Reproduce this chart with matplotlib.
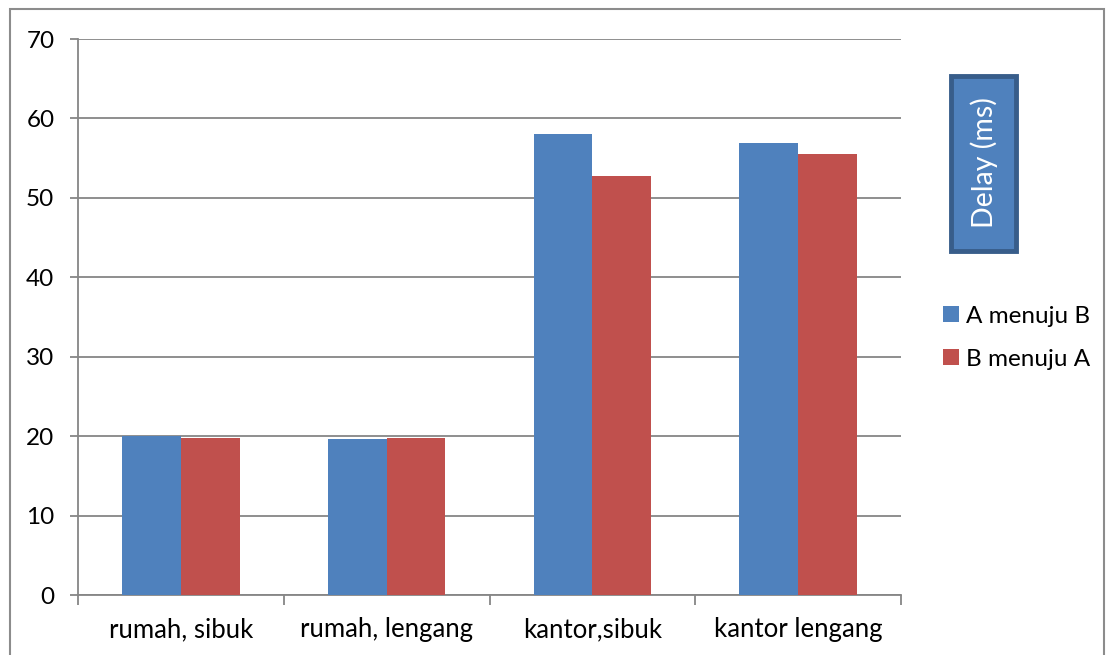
import matplotlib
matplotlib.use("Agg")
import matplotlib.pyplot as plt
import numpy as np
from matplotlib.patches import Rectangle

categories = ["rumah, sibuk", "rumah, lengang", "kantor,sibuk", "kantor lengang"]
a_to_b = [20.0, 19.6, 58.0, 56.9]
b_to_a = [19.8, 19.8, 52.8, 55.5]
series_names = ["A menuju B", "B menuju A"]
yticks = [0, 10, 20, 30, 40, 50, 60, 70]

BLUE = "#4F81BD"
RED = "#C0504D"
GRID = "#868686"

plt.rcParams["font.family"] = ["Lato", "DejaVu Sans"]

W, H = 1107, 655
fig = plt.figure(figsize=(W / 100, H / 100), dpi=100)
ax = fig.add_axes([78 / W, 1 - 595 / H, (901 - 78) / W, (595 - 39) / H])

# outer chart border
fig.patches.append(Rectangle((10 / W, -0.02), (1104 - 10) / W, 1 - 9 / H + 0.02,
                             transform=fig.transFigure, fill=False,
                             edgecolor="#8C8C8C", lw=1.5))

x = np.arange(len(categories))
bw = 1 / 3.5
ax.bar(x - bw / 2, a_to_b, bw, color=BLUE, label=series_names[0], zorder=3)
ax.bar(x + bw / 2, b_to_a, bw, color=RED, label=series_names[1], zorder=3)

ax.set_xlim(-0.5, len(categories) - 0.5)
ax.set_ylim(0, 70)
ax.set_yticks(yticks)
ax.yaxis.grid(True, color=GRID, lw=1.3)
ax.set_axisbelow(True)
for s in ["top", "right"]:
    ax.spines[s].set_visible(False)
for s in ["left", "bottom"]:
    ax.spines[s].set_color(GRID)
    ax.spines[s].set_linewidth(1.3)

ax.set_xticks(np.arange(len(categories) + 1) - 0.5, minor=False)
ax.set_xticklabels([])
ax.set_xticks(x, minor=True)
ax.set_xticklabels(categories, minor=True)
ax.tick_params(axis="x", which="minor", length=0, pad=16, labelsize=18.5)
ax.tick_params(axis="x", which="major", length=7, color=GRID, width=1.3)
ax.tick_params(axis="y", length=6, color=GRID, width=1.3, labelsize=17.5, pad=11)

# "Delay (ms)" box
fig.patches.append(Rectangle((951 / W, 1 - 251 / H), 65 / W, 175 / H,
                             transform=fig.transFigure, facecolor=BLUE,
                             edgecolor="#385D8A", lw=3.5))
fig.text(984 / W, 1 - 163 / H, "Delay (ms)", rotation=90, color="white",
         fontsize=20.5, ha="center", va="center")

handles, labels = ax.get_legend_handles_labels()
fig.legend(handles, labels, loc="upper left", bbox_to_anchor=(921 / W, 1 - 284 / H),
           frameon=False, fontsize=17.5, handlelength=0.65, handleheight=0.65,
           handletextpad=0.3, labelspacing=0.9)

fig.savefig("out.png", dpi=100)
